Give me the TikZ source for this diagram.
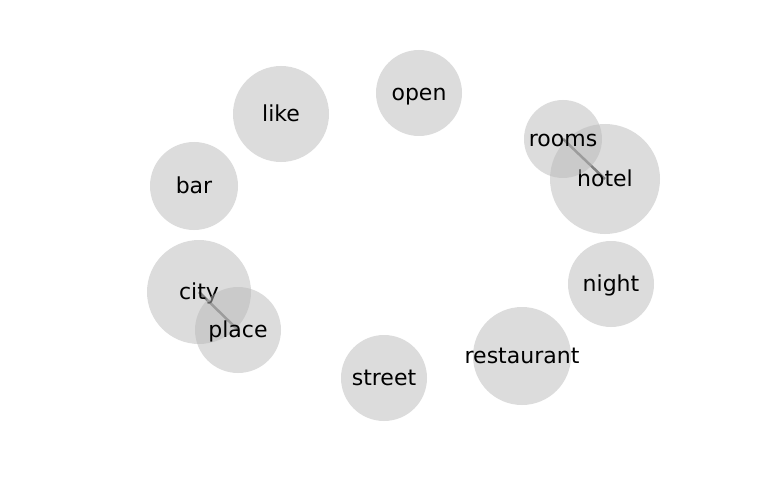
\documentclass[tikz,border=0pt]{standalone}
\usepackage{fontspec}
\setmainfont{DejaVu Sans}
\usetikzlibrary{backgrounds}
\definecolor{bubblegray}{RGB}{185,185,185}
\definecolor{linkgray}{RGB}{70,70,70}
\newcommand{\wordtext}[1]{\makebox[0pt]{#1}}
\tikzset{
  word/.style={circle, inner sep=0pt, fill=bubblegray, fill opacity=0.5,
    text opacity=1, text=black, font=\fontsize{22}{26}\selectfont,
    text height=20pt, text depth=4.5pt, minimum size=#1},
  link/.style={draw=linkgray, line width=2.5pt}
}

\begin{document}
\begin{tikzpicture}[x=1pt,y=-1pt]
	%%%%% canvas %%%%%
	\useasboundingbox (0,0) rectangle (768,500);
	
	%%%%% words %%%%%
	\node[word=86pt] (open) at (419,93) {\wordtext{open}};
	\node[word=96pt] (like) at (281,114) {\wordtext{like}};
	\node[word=88pt] (bar) at (194,186) {\wordtext{bar}};
	\node[word=104pt] (city) at (199,292) {\wordtext{city}};
	\node[word=86pt] (place) at (238,330) {\wordtext{place}};
	\node[word=86pt] (street) at (384,378) {\wordtext{street}};
	\node[word=98pt] (restaurant) at (522,356) {\wordtext{restaurant}};
	\node[word=86pt] (night) at (611,284) {\wordtext{night}};
	\node[word=110pt] (hotel) at (605,179) {\wordtext{hotel}};
	\node[word=78pt] (rooms) at (563,139) {\wordtext{rooms}};
	
	%%%%% links %%%%%
	\begin{scope}[on background layer]
		\draw[link] (city.center) -- (place.center);
		\draw[link] (rooms.center) -- (hotel.center);
	\end{scope}
\end{tikzpicture}
\end{document}
